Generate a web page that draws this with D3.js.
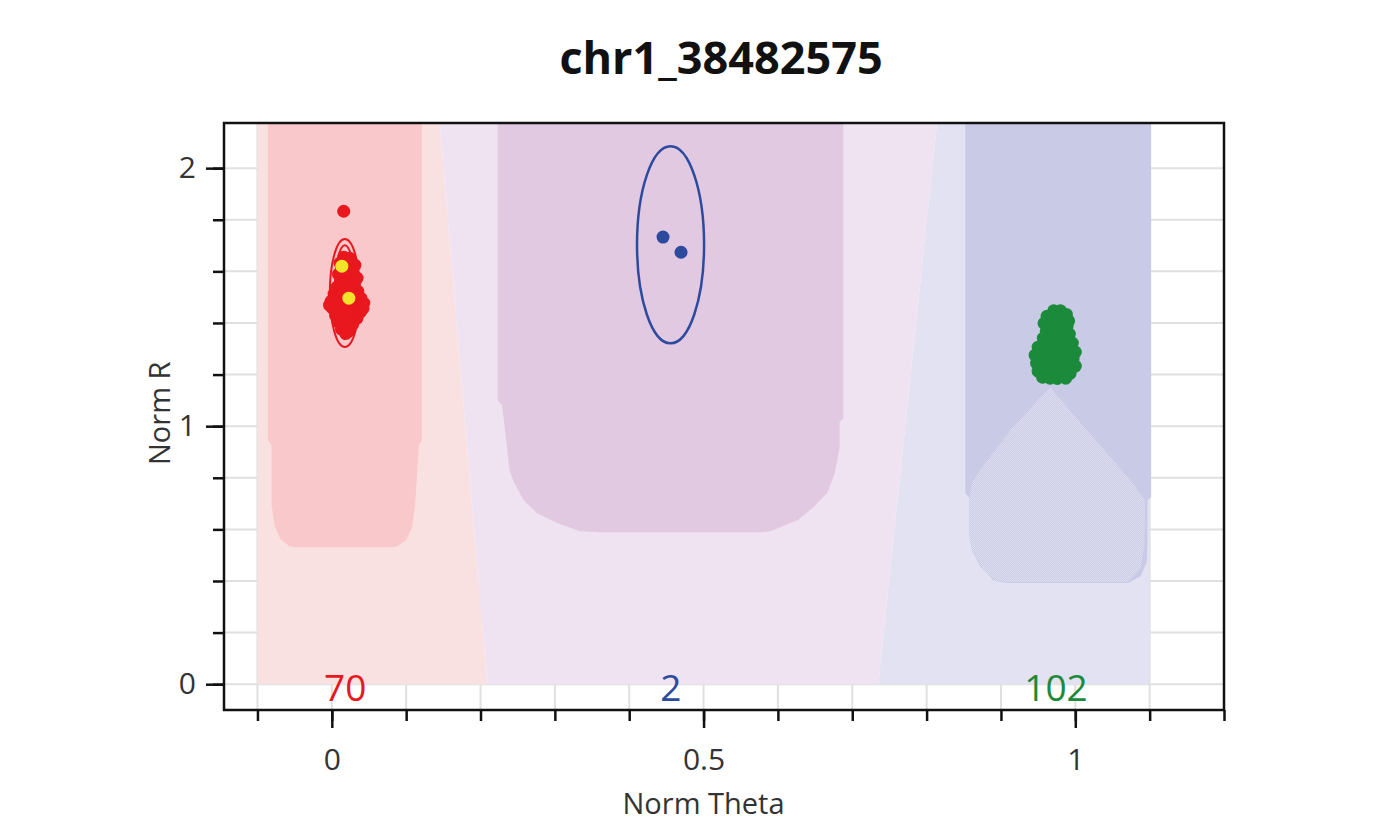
<!DOCTYPE html>
<html>
<head>
<meta charset="utf-8">
<script src="https://cdn.jsdelivr.net/npm/d3@7"></script>
<style>
  html, body { margin: 0; padding: 0; background: #fff; }
  svg { display: block; font-family: "Open Sans", "Noto Sans", sans-serif; }
</style>
</head>
<body>
<svg id="chart" width="1383" height="837"></svg>
<script>
// cluster plot: norm theta vs norm R, three genotype clusters
const TITLE = 'chr1_38482575';
const X_DOMAIN = [-0.145, 1.2];
const Y_DOMAIN = [-0.1, 2.175];

const xMinor = [-0.1, 0, 0.1, 0.2, 0.3, 0.4, 0.5, 0.6, 0.7, 0.8, 0.9, 1.0, 1.1, 1.2];
const xMajor = [0, 0.5, 1];
const yMinor = [0, 0.2, 0.4, 0.6, 0.8, 1.0, 1.2, 1.4, 1.6, 1.8, 2.0];
const yMajor = [0, 1, 2];

// background call regions [theta, R]
const bgAA = [[-0.1, 0], [-0.1, 2.175], [0.145, 2.175], [0.209, 0]];
const bgAB = [[0.209, 0], [0.145, 2.175], [0.814, 2.175], [0.735, 0]];
const bgBB = [[0.735, 0], [0.814, 2.175], [1.1, 2.175], [1.1, 0]];

// inner (confident) cluster regions
const coreAA = [[-0.086, 2.175], [-0.086, 0.946], [-0.081, 0.926], [-0.081, 0.694], [-0.077, 0.616],
  [-0.069, 0.562], [-0.057, 0.535], [-0.050, 0.531], [0.082, 0.531], [0.088, 0.535], [0.100, 0.558],
  [0.108, 0.609], [0.112, 0.694], [0.115, 0.830], [0.117, 0.926], [0.121, 0.946], [0.121, 2.175]];
const coreAB = [[0.223, 2.175], [0.223, 1.101], [0.229, 1.081], [0.233, 0.984], [0.236, 0.907],
  [0.239, 0.829], [0.245, 0.783], [0.258, 0.713], [0.276, 0.663], [0.303, 0.625], [0.334, 0.593],
  [0.360, 0.589], [0.580, 0.589], [0.590, 0.593], [0.627, 0.636], [0.648, 0.686], [0.667, 0.744],
  [0.676, 0.814], [0.683, 0.915], [0.683, 1.015], [0.688, 1.031], [0.688, 2.175]];
const coreBB = [[0.852, 2.175], [0.852, 0.740], [0.857, 0.725], [0.857, 0.585], [0.861, 0.519],
  [0.872, 0.457], [0.890, 0.403], [0.906, 0.392], [1.071, 0.392], [1.088, 0.419], [1.096, 0.473],
  [1.097, 0.539], [1.097, 0.713], [1.102, 0.725], [1.102, 2.175]];
const ditherBB = [[0.966, 1.151], [0.913, 0.985], [0.872, 0.830], [0.861, 0.779], [0.857, 0.713],
  [0.857, 0.585], [0.861, 0.519], [0.876, 0.442], [0.896, 0.395], [1.070, 0.395], [1.088, 0.450],
  [1.093, 0.539], [1.094, 0.713], [1.074, 0.791], [1.027, 0.946]];

// samples
const ptsAA = [[0.016, 1.655], [0.024, 1.651], [0.011, 1.632], [0.031, 1.624], [0.019, 1.612], [0.027, 1.597],
  [0.009, 1.589], [0.018, 1.581], [0.034, 1.574], [0.012, 1.562], [0.023, 1.558], [0.030, 1.547],
  [0.007, 1.539], [0.016, 1.535], [0.026, 1.527], [0.035, 1.523], [0.003, 1.512], [0.012, 1.508],
  [0.020, 1.512], [0.031, 1.500], [0.039, 1.496], [-0.001, 1.484], [0.008, 1.481], [0.018, 1.484],
  [0.027, 1.477], [0.035, 1.469], [0.043, 1.477], [0.001, 1.457], [0.011, 1.453], [0.022, 1.457],
  [0.031, 1.446], [0.040, 1.450], [0.005, 1.430], [0.015, 1.426], [0.024, 1.430], [0.034, 1.419],
  [0.009, 1.403], [0.019, 1.399], [0.028, 1.395], [0.013, 1.376], [0.023, 1.368], [0.019, 1.360],
  [0.008, 1.504], [0.028, 1.504], [0.016, 1.554], [0.038, 1.442], [-0.003, 1.469], [0.042, 1.457],
  [0.016, 1.833]];
const ptsHighlight = [[0.0135, 1.620], [0.0229, 1.496]];
const ptsAB = [[0.4455, 1.733], [0.4697, 1.674]];
const ptsBB = [[0.971, 1.447], [0.980, 1.447], [0.988, 1.433], [0.962, 1.426], [0.973, 1.422], [0.984, 1.419],
  [0.991, 1.408], [0.958, 1.399], [0.968, 1.395], [0.979, 1.391], [0.989, 1.388], [0.961, 1.368],
  [0.972, 1.364], [0.983, 1.368], [0.992, 1.357], [0.957, 1.341], [0.966, 1.337], [0.977, 1.333],
  [0.988, 1.329], [0.996, 1.322], [0.950, 1.306], [0.961, 1.302], [0.972, 1.306], [0.983, 1.298],
  [0.993, 1.295], [1.000, 1.287], [0.946, 1.275], [0.956, 1.271], [0.966, 1.267], [0.977, 1.271],
  [0.988, 1.264], [0.997, 1.260], [0.948, 1.244], [0.958, 1.240], [0.969, 1.236], [0.980, 1.233],
  [0.991, 1.240], [1.000, 1.233], [0.950, 1.213], [0.961, 1.209], [0.972, 1.205], [0.983, 1.209],
  [0.993, 1.205], [0.956, 1.190], [0.966, 1.186], [0.977, 1.190], [0.987, 1.186]];

// cluster ellipses: [cTheta, cR, rTheta, rR]
const ellAA = [[0.0175, 1.516, 0.0202, 0.209], [0.0175, 1.519, 0.0135, 0.182]];
const ellAB = [[0.4556, 1.703, 0.0451, 0.382]];
const ellBB = [[0.9758, 1.295, 0.015, 0.132]];

const clusterNames = ['AA', 'AB', 'BB'];
const clusterCounts = [70, 2, 102];
const clusterCenters = [0.018, 0.456, 0.974];

const RED = '#e8181e', BLUE = '#2c4a9e', GREEN = '#1b8a3b', YELLOW = '#f3e32a';
const countColors = [RED, BLUE, GREEN];

const svg = d3.select('#chart');
const margin = { top: 123, right: 159, bottom: 127, left: 224 };
const W = +svg.attr('width'), H = +svg.attr('height');
const iw = W - margin.left - margin.right;
const ih = H - margin.top - margin.bottom;

const x = d3.scaleLinear().domain(X_DOMAIN).range([0, iw]);
const y = d3.scaleLinear().domain(Y_DOMAIN).range([ih, 0]);

const defs = svg.append('defs');
defs.append('clipPath').attr('id', 'plot-clip')
    .append('rect').attr('width', iw).attr('height', ih);
const pat = defs.append('pattern').attr('id', 'dither')
    .attr('width', 2).attr('height', 2).attr('patternUnits', 'userSpaceOnUse');
pat.append('rect').attr('width', 2).attr('height', 2).attr('fill', '#dedef1');
pat.append('rect').attr('width', 1).attr('height', 1).attr('fill', '#cbcbe6');
pat.append('rect').attr('x', 1).attr('y', 1).attr('width', 1).attr('height', 1).attr('fill', '#cbcbe6');

const g = svg.append('g').attr('transform', `translate(${margin.left},${margin.top})`);

// Grid
const grid = g.append('g').attr('stroke', '#e0e0e0').attr('stroke-width', 2);
for (const v of yMinor) {
    grid.append('line').attr('x1', 0).attr('x2', iw).attr('y1', y(v)).attr('y2', y(v));
}
for (const v of xMinor) {
    grid.append('line').attr('y1', 0).attr('y2', ih).attr('x1', x(v)).attr('x2', x(v));
}

// Regions
const area = d3.line().x(d => x(d[0])).y(d => y(d[1]));
const regions = g.append('g').attr('clip-path', 'url(#plot-clip)');
const shapes = [
    [bgAA, '#fae1e1'], [bgAB, '#efe3f1'], [bgBB, '#e2e2f2'],
    [coreAA, '#f8c8ca'], [coreAB, '#e2c9e2'], [coreBB, '#c9cae6'],
    [ditherBB, 'url(#dither)']
];
for (const [pts, fill] of shapes) {
    regions.append('path').attr('d', area(pts) + 'Z').attr('fill', fill);
}

// Ellipses
function drawEllipses(list, color, sw) {
    for (const e of list) {
        g.append('ellipse')
            .attr('cx', x(e[0])).attr('cy', y(e[1]))
            .attr('rx', x(e[0] + e[2]) - x(e[0]))
            .attr('ry', y(e[1]) - y(e[1] + e[3]))
            .attr('fill', 'none').attr('stroke', color).attr('stroke-width', sw);
    }
}
drawEllipses(ellAB, BLUE, 2.5);
drawEllipses(ellBB, GREEN, 2);

// Points
function drawPoints(list, color, r) {
    g.append('g').selectAll('circle').data(list).join('circle')
        .attr('cx', d => x(d[0])).attr('cy', d => y(d[1]))
        .attr('r', r).attr('fill', color);
}
drawPoints(ptsAA, RED, 6.5);
drawEllipses(ellAA, RED, 2);
drawPoints(ptsHighlight, YELLOW, 6.5);
drawPoints(ptsAB, BLUE, 6.5);
drawPoints(ptsBB, GREEN, 6.5);

// Counts
clusterNames.forEach((name, i) => {
    g.append('text')
        .attr('x', x(clusterCenters[i])).attr('y', y(0) + 2)
        .attr('text-anchor', 'middle').attr('dominant-baseline', 'central')
        .attr('font-size', 37).attr('fill', countColors[i])
        .text(clusterCounts[i]);
});

// Axes
const axisStyle = sel => {
    sel.select('.domain').remove();
    sel.selectAll('.tick line').attr('stroke', '#111').attr('stroke-width', 2.5);
    sel.selectAll('.tick text').attr('font-size', 30).attr('fill', '#333')
        .attr('font-family', '"Open Sans", sans-serif');
};
g.append('g').attr('transform', `translate(0,${ih})`)
    .call(d3.axisBottom(x).tickValues(xMinor).tickSize(11).tickFormat(''))
    .call(axisStyle);
g.append('g').attr('transform', `translate(0,${ih})`)
    .call(d3.axisBottom(x).tickValues(xMajor).tickSize(18).tickPadding(21).tickFormat(d3.format('')))
    .call(axisStyle);
g.append('g')
    .call(d3.axisLeft(y).tickValues(yMinor).tickSize(11).tickFormat(''))
    .call(axisStyle);
g.append('g')
    .call(d3.axisLeft(y).tickValues(yMajor).tickSize(18).tickPadding(10).tickFormat(d3.format('')))
    .call(axisStyle);

// Frame
g.append('rect').attr('width', iw).attr('height', ih)
    .attr('fill', 'none').attr('stroke', '#111').attr('stroke-width', 2.5);

// Labels
svg.append('text').attr('x', 721).attr('y', 74)
    .attr('text-anchor', 'middle').attr('font-size', 45).attr('font-weight', 700).attr('fill', '#111')
    .text(TITLE);
svg.append('text').attr('x', margin.left + x(0.5)).attr('y', 814)
    .attr('text-anchor', 'middle').attr('font-size', 29).attr('fill', '#333')
    .text('Norm Theta');
svg.append('text').attr('transform', `translate(170,${margin.top + y(1.05)}) rotate(-90)`)
    .attr('text-anchor', 'middle').attr('font-size', 29).attr('fill', '#333')
    .text('Norm R');
</script>
</body>
</html>
